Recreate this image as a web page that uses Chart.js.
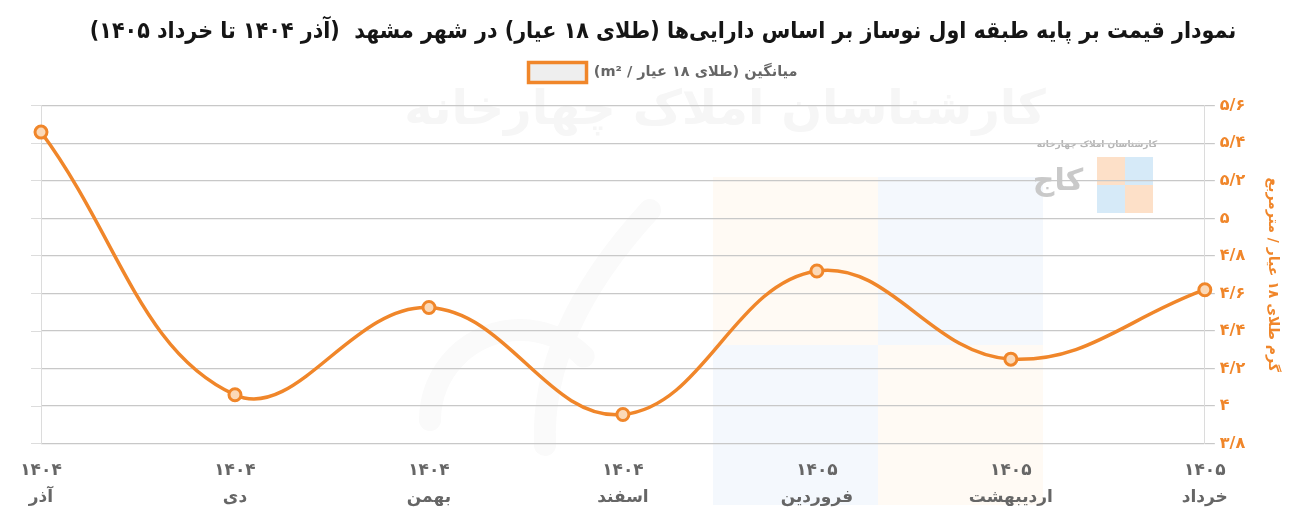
<!DOCTYPE html>
<html>
<head>
<meta charset="utf-8">
<script src="https://cdn.jsdelivr.net/npm/chart.js@4.4.1/dist/chart.umd.min.js"></script>
<style>
	html, body { margin: 0; padding: 0; background: #fff; }
	#wrap { width: 1310px; height: 524px; }
	canvas { direction: rtl; }
</style>
</head>
<body>
<div id="wrap"><canvas id="chart"></canvas></div>
<script>
const years = ["1404", "1404", "1404", "1404", "1405", "1405", "1405"];
const months = ["آذر", "دی", "بهمن", "اسفند", "فروردین", "اردیبهشت", "خرداد"];
const avgGold = [5.46, 4.06, 4.525, 3.955, 4.72, 4.25, 4.62];

const chartTitle = "نمودار قیمت بر پایه طبقه اول نوساز بر اساس دارایی‌ها (طلای 18 عیار) در شهر مشهد  (آذر 1404 تا خرداد 1405)";
const seriesName = "میانگین (طلای 18 عیار / m²)";
const axisTitle = "گرم طلای 18 عیار / مترمربع";

const orange = "#f0862a";
const font = "'DejaVu Sans', sans-serif";

function faDigits(str) {
	return String(str).replace(/[0-9]/g, function(d) {
		return "۰۱۲۳۴۵۶۷۸۹"[d];
	});
}

// faint logo / watermark behind the plot
const watermark = {
	id: "watermark",
	beforeDraw(chart) {
		const ctx = chart.ctx;
		ctx.save();
		ctx.fillStyle = "#fffaf4";
		ctx.fillRect(713, 177, 165, 168);
		ctx.fillRect(878, 345, 165, 160);
		ctx.fillStyle = "#f4f8fd";
		ctx.fillRect(878, 177, 165, 168);
		ctx.fillRect(713, 345, 165, 160);

		ctx.fillStyle = "#f6f6f6";
		ctx.font = "bold 48px " + font;
		ctx.textAlign = "center";
		ctx.textBaseline = "middle";
		ctx.fillText("کارشناسان املاک چهارخانه", 725, 112);

		ctx.fillStyle = "#b5b5b5";
		ctx.font = "bold 9px " + font;
		ctx.fillText("کارشناسان املاک چهارخانه", 1097, 145);
		ctx.fillStyle = "#fde0c8";
		ctx.fillRect(1097, 157, 28, 28);
		ctx.fillRect(1125, 185, 28, 28);
		ctx.fillStyle = "#d6eaf8";
		ctx.fillRect(1125, 157, 28, 28);
		ctx.fillRect(1097, 185, 28, 28);
		ctx.fillStyle = "#c9c9c9";
		ctx.font = "bold 30px " + font;
		ctx.fillText("کاج", 1058, 182);

		ctx.strokeStyle = "#fafafa";
		ctx.lineWidth = 22;
		ctx.lineCap = "round";
		ctx.beginPath();
		ctx.moveTo(650, 210);
		ctx.quadraticCurveTo(540, 330, 545, 445);
		ctx.stroke();
		ctx.beginPath();
		ctx.arc(520, 420, 90, 1.0 * Math.PI, 1.75 * Math.PI);
		ctx.stroke();
		ctx.restore();
	}
};

new Chart(document.getElementById("chart"), {
	type: "line",
	data: {
		labels: years.map(function(y, i) { return [faDigits(y), months[i]]; }),
		datasets: [{
			label: faDigits(seriesName),
			data: avgGold,
			yAxisID: "y",
			borderColor: orange,
			backgroundColor: "#eeeeee",
			borderWidth: 3.5,
			tension: 0.4,
			fill: false,
			pointRadius: 6,
			pointBorderWidth: 3,
			pointBorderColor: orange,
			pointBackgroundColor: "#fbd9b8"
		}]
	},
	options: {
		responsive: true,
		maintainAspectRatio: false,
		animation: false,
		layout: { padding: { left: 31, right: 15, top: 4, bottom: 0 } },
		plugins: {
			title: {
				display: true,
				text: faDigits(chartTitle),
				color: "#151515",
				font: { family: "'DejaVu Sans Condensed', " + font, size: 23, weight: "bold" },
				padding: { top: 14, bottom: 4 }
			},
			// empty spacer between legend and plot
			subtitle: {
				display: true,
				text: " ",
				weight: 500,
				font: { size: 1 },
				padding: { top: 12, bottom: 0 }
			},
			legend: {
				display: true,
				textDirection: "rtl",
				labels: {
					color: "#666",
					boxWidth: 58,
					boxHeight: 20,
					padding: 13,
					font: { family: font, size: 14.5, weight: "bold" }
				}
			},
			tooltip: { enabled: false }
		},
		scales: {
			x: {
				offset: false,
				grid: { display: false, drawTicks: false },
				border: { display: false },
				ticks: {
					color: "#666",
					padding: 13,
					maxRotation: 0,
					font: { family: font, size: 17, weight: "bold", lineHeight: 1.6 }
				}
			},
			yl: {
				position: "left",
				min: 3.8,
				max: 5.6,
				ticks: { display: false, stepSize: 0.2 },
				grid: { drawOnChartArea: false, tickLength: 10, color: "#dcdcdc" },
				border: { color: "#dcdcdc" }
			},
			y: {
				position: "right",
				min: 3.8,
				max: 5.6,
				ticks: {
					stepSize: 0.2,
					color: orange,
					padding: 5,
					font: { family: font, size: 16, weight: "bold" },
					callback: function(v) {
						return faDigits(Number(v.toFixed(1)).toString().replace(".", "/"));
					}
				},
				grid: { color: "#c8c8c8", tickLength: 10, lineWidth: 1.2 },
				border: { color: "#dcdcdc" },
				title: {
					display: true,
					text: faDigits(axisTitle),
					color: orange,
					font: { family: font, size: 14, weight: "bold" },
					padding: { top: 14, bottom: 14 }
				}
			}
		}
	},
	plugins: [watermark]
});
</script>
</body>
</html>
